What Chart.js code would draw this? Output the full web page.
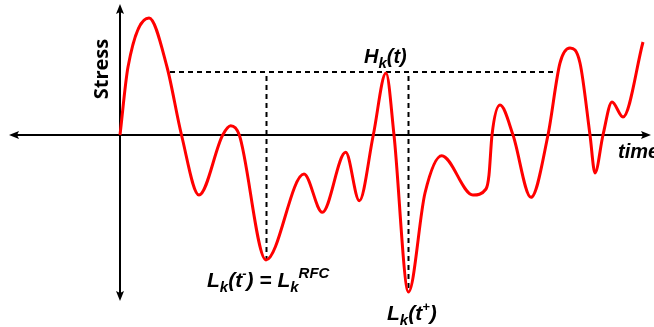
<!DOCTYPE html>
<html>
<head>
<meta charset="utf-8">
<script src="https://cdn.jsdelivr.net/npm/chart.js@4/dist/chart.umd.min.js"></script>
<style>
  body { margin: 0; background: #fff; }
  #wrap { width: 654px; height: 327px; }
</style>
</head>
<body>
<div id="wrap"><canvas id="chart" width="654" height="327"></canvas></div>
<script>
// stress history (time, stress)
const times  = [0, 8, 29, 47, 61.5, 79, 102.7, 110.7, 119.3, 146, 184, 202.3, 225.7, 239.3, 253.3, 266, 274, 288.5, 305, 321.7, 353, 366, 369, 372, 380, 393, 411, 428, 440, 450, 460, 470, 475, 483, 492, 503, 523];
const stress = [0, 68, 117, 68, 0, -60, 0, 9.3, 0, -125, -39, -77.3, -17.3, -65.7, 0, 62, 0, -157, -58, -20.7, -60, -54, -40, 0, 30, 0, -62.3, 0, 72, 87, 72, 0, -38, 0, 33, 18, 93];

// level H_k(t) and the two lows
const levelT = [50, 438];
const levelS = 63;
const lowT = [146.5, 288.5];
const lowS = [-125, -157];

// axis extents
const axisT = [-110, 530];
const axisS = [-165, 130];

function pts(xs, ys) {
  return xs.map((x, i) => ({ x: x, y: ys[i] }));
}

const FONT = '"Liberation Sans", Arial, sans-serif';

function drawRich(ctx, x, y, parts) {
  let cx = x;
  parts.forEach(p => {
    ctx.font = 'italic bold ' + p.size + 'px ' + FONT;
    ctx.fillText(p.t, cx, y + (p.dy || 0));
    cx += ctx.measureText(p.t).width;
  });
}

const axesPlugin = {
  id: 'axes',
  beforeDatasetsDraw(chart) {
    const ctx = chart.ctx;
    const xs = chart.scales.x, ys = chart.scales.y;
    const x0 = xs.getPixelForValue(0), y0 = ys.getPixelForValue(0);
    const l = xs.getPixelForValue(axisT[0]), r = xs.getPixelForValue(axisT[1]);
    const b = ys.getPixelForValue(axisS[0]), t = ys.getPixelForValue(axisS[1]);
    ctx.save();
    ctx.strokeStyle = '#000';
    ctx.fillStyle = '#000';
    ctx.lineWidth = 2;
    ctx.beginPath();
    ctx.moveTo(l + 4, y0); ctx.lineTo(r - 4, y0);
    ctx.moveTo(x0, b - 4); ctx.lineTo(x0, t + 4);
    ctx.stroke();
    const a = 9, w = 4;
    ctx.beginPath();
    ctx.moveTo(l - 1, y0); ctx.lineTo(l + a, y0 - w); ctx.lineTo(l + a - 2, y0); ctx.lineTo(l + a, y0 + w); ctx.closePath();
    ctx.moveTo(r + 1, y0); ctx.lineTo(r - a, y0 - w); ctx.lineTo(r - a + 2, y0); ctx.lineTo(r - a, y0 + w); ctx.closePath();
    ctx.moveTo(x0, t - 1); ctx.lineTo(x0 - w, t + a); ctx.lineTo(x0, t + a - 2); ctx.lineTo(x0 + w, t + a); ctx.closePath();
    ctx.moveTo(x0, b + 1); ctx.lineTo(x0 - w, b - a); ctx.lineTo(x0, b - a + 2); ctx.lineTo(x0 + w, b - a); ctx.closePath();
    ctx.fill();
    ctx.restore();
  },
  afterDraw(chart) {
    const ctx = chart.ctx;
    const xs = chart.scales.x, ys = chart.scales.y;
    const px = v => xs.getPixelForValue(v), py = v => ys.getPixelForValue(v);
    ctx.save();
    ctx.fillStyle = '#000';
    ctx.textBaseline = 'alphabetic';
    ctx.textAlign = 'left';

    drawRich(ctx, px(244), py(72), [
      { t: 'H', size: 20 }, { t: 'k', size: 15, dy: 5 }, { t: '(t)', size: 20 }
    ]);
    drawRich(ctx, px(87), py(-152), [
      { t: 'L', size: 21 }, { t: 'k', size: 15, dy: 5 }, { t: '(t', size: 21 },
      { t: '-', size: 13, dy: -9 }, { t: ') = L', size: 21 }, { t: 'k', size: 15, dy: 5 },
      { t: 'RFC', size: 15, dy: -9 }
    ]);
    drawRich(ctx, px(267), py(-185), [
      { t: 'L', size: 21 }, { t: 'k', size: 15, dy: 5 }, { t: '(t', size: 21 },
      { t: '+', size: 13, dy: -9 }, { t: ')', size: 21 }
    ]);
    drawRich(ctx, px(498), py(-23), [{ t: 'time', size: 20 }]);

    ctx.translate(px(-12), py(66));
    ctx.rotate(-Math.PI / 2);
    ctx.textAlign = 'center';
    ctx.font = 'bold 20px "Open Sans", sans-serif';
    ctx.fillText('Stress', 0, 0);
    ctx.restore();
  }
};

const dashed = {
  borderColor: '#000',
  borderWidth: 2,
  borderDash: [5, 4],
  pointRadius: 0,
  showLine: true,
  fill: false
};

new Chart(document.getElementById('chart'), {
  type: 'scatter',
  data: {
    datasets: [
      {
        data: pts(times, stress),
        borderColor: '#ff0000',
        borderWidth: 3,
        pointRadius: 0,
        showLine: true,
        fill: false,
        cubicInterpolationMode: 'monotone'
      },
      Object.assign({ data: pts(levelT, [levelS, levelS]) }, dashed),
      Object.assign({ data: pts([lowT[0], lowT[0]], [levelS - 4, lowS[0]]) }, dashed),
      Object.assign({ data: pts([lowT[1], lowT[1]], [levelS - 4, lowS[1]]) }, dashed)
    ]
  },
  options: {
    responsive: false,
    animation: false,
    layout: { padding: 0 },
    plugins: { legend: { display: false }, tooltip: { enabled: false } },
    scales: {
      x: { type: 'linear', min: -120, max: 534, display: false },
      y: { type: 'linear', min: -192, max: 135, display: false }
    }
  },
  plugins: [axesPlugin]
});
</script>
</body>
</html>
